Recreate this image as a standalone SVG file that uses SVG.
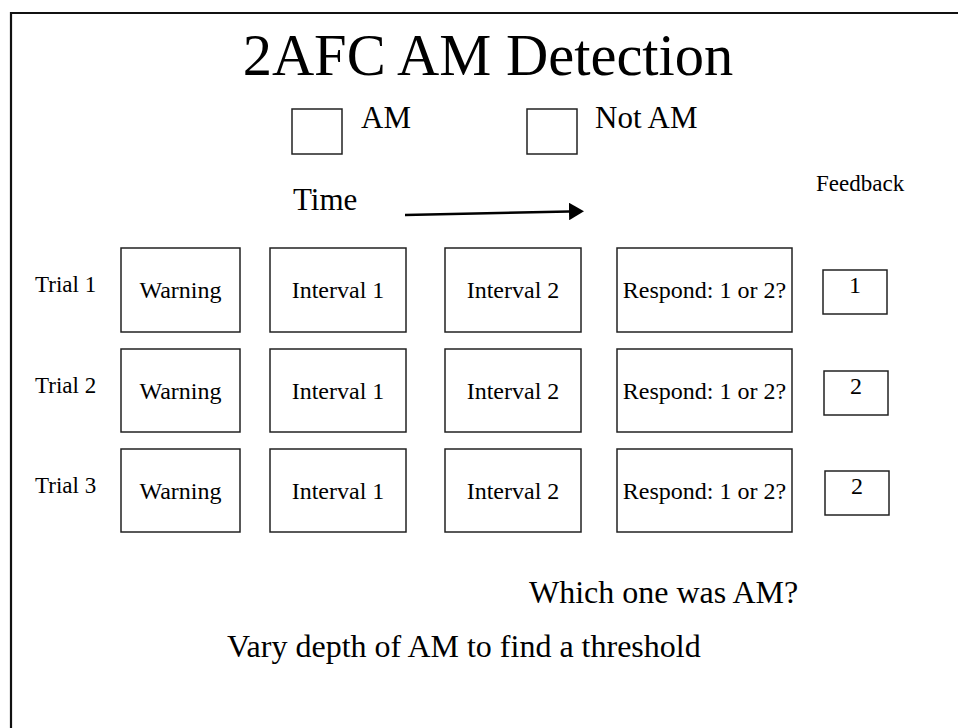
<svg xmlns="http://www.w3.org/2000/svg" width="958" height="728" viewBox="0 0 958 728">
<defs>
<style>
text{font-family:"Liberation Serif","Times New Roman",serif;fill:#000}
.box{fill:#fff;stroke:#222;stroke-width:1.5}
.lbl{font-size:24px;text-anchor:middle}
.trial{font-size:23px}
.mid{font-size:31px}
.big{font-size:32px}
</style>
<marker id="ah" markerWidth="6" markerHeight="7" refX="0" refY="3.5" orient="auto" markerUnits="strokeWidth">
<path d="M0,0 L6,3.5 L0,7 Z" fill="#000"/>
</marker>
</defs>
<rect width="958" height="728" fill="#fff"/>
<path d="M11,728 V13 H958" fill="none" stroke="#111" stroke-width="2.2"/>
<text x="488" y="75" font-size="58.5" text-anchor="middle">2AFC AM Detection</text>
<g id="legend-am"><rect class="box" x="292" y="109" width="50" height="45"/><text class="mid" x="361" y="128">AM</text></g>
<g id="legend-notam"><rect class="box" x="527" y="109" width="50" height="45"/><text class="mid" x="595" y="128">Not AM</text></g>
<text class="mid" x="293" y="210">Time</text>
<text x="816" y="191" font-size="23">Feedback</text>
<g id="connectors">
<line x1="405" y1="215" x2="569" y2="211.5" stroke="#000" stroke-width="2.5" marker-end="url(#ah)"/>
</g>
<g id="trial1">
<text class="trial" x="35" y="292">Trial 1</text>
<g id="t1-warning"><rect class="box" x="121" y="248" width="119" height="84"/><text class="lbl" x="180.5" y="298">Warning</text></g>
<g id="t1-int1"><rect class="box" x="270" y="248" width="136" height="84"/><text class="lbl" x="338" y="298">Interval 1</text></g>
<g id="t1-int2"><rect class="box" x="445" y="248" width="136" height="84"/><text class="lbl" x="513" y="298">Interval 2</text></g>
<g id="t1-resp"><rect class="box" x="617" y="248" width="175" height="84"/><text class="lbl" x="704.5" y="298">Respond: 1 or 2?</text></g>
<g id="t1-fb"><rect class="box" x="823" y="270" width="64" height="44"/><text class="lbl" x="855" y="293">1</text></g>
</g>
<g id="trial2">
<text class="trial" x="35" y="393">Trial 2</text>
<g id="t2-warning"><rect class="box" x="121" y="349" width="119" height="83"/><text class="lbl" x="180.5" y="399">Warning</text></g>
<g id="t2-int1"><rect class="box" x="270" y="349" width="136" height="83"/><text class="lbl" x="338" y="399">Interval 1</text></g>
<g id="t2-int2"><rect class="box" x="445" y="349" width="136" height="83"/><text class="lbl" x="513" y="399">Interval 2</text></g>
<g id="t2-resp"><rect class="box" x="617" y="349" width="175" height="83"/><text class="lbl" x="704.5" y="399">Respond: 1 or 2?</text></g>
<g id="t2-fb"><rect class="box" x="824" y="371" width="64" height="44"/><text class="lbl" x="856" y="394">2</text></g>
</g>
<g id="trial3">
<text class="trial" x="35" y="493">Trial 3</text>
<g id="t3-warning"><rect class="box" x="121" y="449" width="119" height="83"/><text class="lbl" x="180.5" y="499">Warning</text></g>
<g id="t3-int1"><rect class="box" x="270" y="449" width="136" height="83"/><text class="lbl" x="338" y="499">Interval 1</text></g>
<g id="t3-int2"><rect class="box" x="445" y="449" width="136" height="83"/><text class="lbl" x="513" y="499">Interval 2</text></g>
<g id="t3-resp"><rect class="box" x="617" y="449" width="175" height="83"/><text class="lbl" x="704.5" y="499">Respond: 1 or 2?</text></g>
<g id="t3-fb"><rect class="box" x="825" y="471" width="64" height="44"/><text class="lbl" x="857" y="494">2</text></g>
</g>
<text class="big" x="529" y="603">Which one was AM?</text>
<text class="big" x="227" y="657">Vary depth of AM to find a threshold</text>
</svg>
